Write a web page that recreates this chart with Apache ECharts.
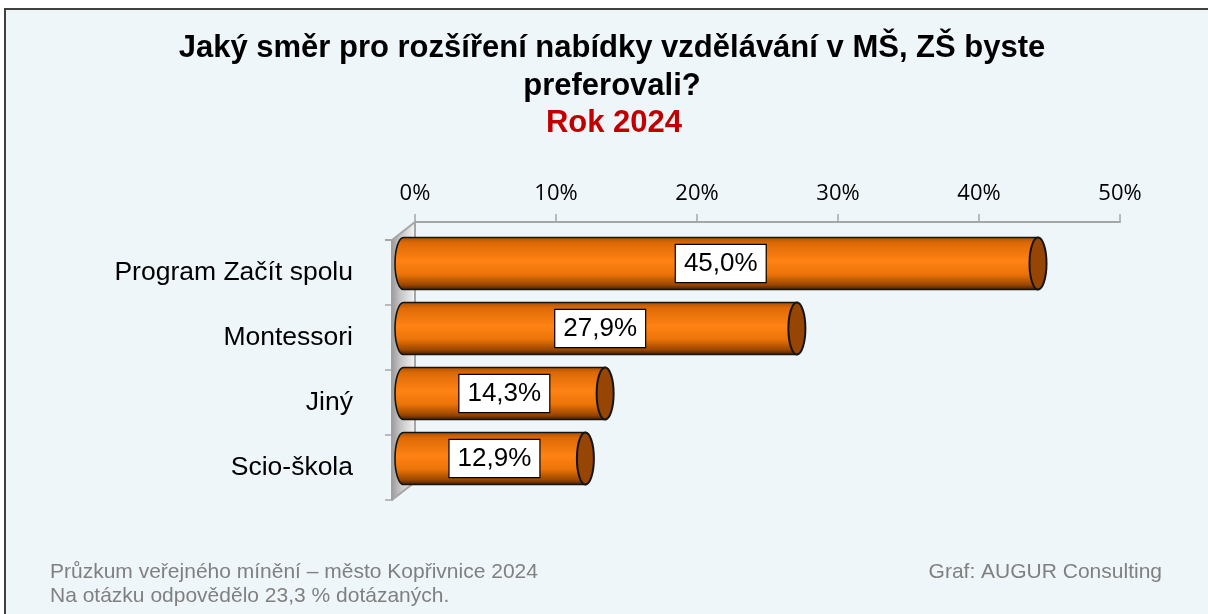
<!DOCTYPE html>
<html>
<head>
<meta charset="utf-8">
<script src="https://cdn.jsdelivr.net/npm/echarts@6/dist/echarts.min.js"></script>
<style>
html,body{margin:0;padding:0;background:#fff;}
#frame{position:absolute;left:4px;top:8px;width:1220px;height:620px;background:#EFF6FA;border-top:2px solid #404040;border-left:2px solid #404040;}
#chart{position:absolute;left:0;top:0;width:1208px;height:614px;}
</style>
</head>
<body>
<div id="frame"></div>
<div id="chart"></div>
<script>
// ---- data ----
const categories = ['Program Začít spolu', 'Montessori', 'Jiný', 'Scio-škola'];
const values = [45.0, 27.9, 14.3, 12.9];
const axisMin = 0, axisMax = 50, axisStep = 10;
const titleLines = ['Jaký směr pro rozšíření nabídky vzdělávání v MŠ, ZŠ byste', 'preferovali?'];
const yearLine = 'Rok 2024';
const footLeft = ['Průzkum veřejného mínění – město Kopřivnice 2024', 'Na otázku odpovědělo 23,3 % dotázaných.'];
const footRight = 'Graf: AUGUR Consulting';

// ---- layout (3D frame: back plane, mid plane for bars, front plane) ----
const BACK = {left: 415, top: 222}, DEPTH = {dx: -23, dy: 18};
const PLOT_W = 705, PLOT_H = 260;
const MID = {left: BACK.left + DEPTH.dx / 2, top: BACK.top + DEPTH.dy / 2};
const FRONT = {left: BACK.left + DEPTH.dx, top: BACK.top + DEPTH.dy};
const FONT = 'Liberation Sans, Arial';

const chart = echarts.init(document.getElementById('chart'), null, {renderer: 'canvas'});

const fmt = v => v.toFixed(1).replace('.', ',') + '%';

const barGradient = new echarts.graphic.LinearGradient(0, 0, 0, 1, [
  {offset: 0, color: '#A84E00'},
  {offset: 0.12, color: '#DE6A06'},
  {offset: 0.45, color: '#FF8214'},
  {offset: 0.7, color: '#EC7408'},
  {offset: 0.9, color: '#9A4600'},
  {offset: 1, color: '#3A1A00'}
]);

const hiddenX = gi => ({type: 'value', gridIndex: gi, min: axisMin, max: axisMax, interval: axisStep, show: false});
const hiddenY = gi => ({type: 'category', gridIndex: gi, data: categories, inverse: true, show: false});

const option = {
  backgroundColor: 'transparent',
  animation: false,
  grid: [
    {left: BACK.left, top: BACK.top, width: PLOT_W, height: PLOT_H},
    {left: MID.left, top: MID.top, width: PLOT_W, height: PLOT_H},
    {left: FRONT.left, top: FRONT.top, width: PLOT_W, height: PLOT_H}
  ],
  xAxis: [
    {
      type: 'value', gridIndex: 0, position: 'top', min: axisMin, max: axisMax, interval: axisStep,
      axisLine: {show: true, lineStyle: {color: '#A6A6A6', width: 2}},
      axisTick: {show: true, length: 8, lineStyle: {color: '#A6A6A6', width: 1.5}},
      splitLine: {show: false},
      axisLabel: {formatter: '{value}%', fontFamily: 'Open Sans', fontSize: 22, color: '#000', margin: 17}
    },
    hiddenX(1),
    hiddenX(2)
  ],
  yAxis: [
    hiddenY(0),
    hiddenY(1),
    {
      type: 'category', gridIndex: 2, data: categories, inverse: true,
      axisLine: {show: true, lineStyle: {color: '#A6A6A6', width: 2}},
      axisTick: {show: true, length: 7, lineStyle: {color: '#A6A6A6', width: 1.5}},
      axisLabel: {fontFamily: FONT, fontSize: 26.5, color: '#000', margin: 39}
    }
  ],
  graphic: [
    // side wall
    {type: 'polygon', z: 1, silent: true,
      shape: {points: [[FRONT.left, FRONT.top], [BACK.left, BACK.top], [BACK.left, BACK.top + PLOT_H], [FRONT.left, FRONT.top + PLOT_H]]},
      style: {fill: new echarts.graphic.LinearGradient(0, 0, 1, 0, [
        {offset: 0, color: '#9C9C9C'}, {offset: 0.35, color: '#C4C4C4'}, {offset: 1, color: '#F4F4F4'}])}},
    {type: 'polyline', z: 1, silent: true,
      shape: {points: [[FRONT.left - 7, FRONT.top], [FRONT.left, FRONT.top], [BACK.left, BACK.top], [BACK.left, BACK.top + PLOT_H], [FRONT.left, FRONT.top + PLOT_H]]},
      style: {stroke: '#A6A6A6', lineWidth: 2, fill: null}},
    {type: 'line', z: 1, silent: true,
      shape: {x1: FRONT.left, y1: FRONT.top, x2: FRONT.left, y2: FRONT.top + PLOT_H},
      style: {stroke: '#A0A0A0', lineWidth: 2}},
    // titles
    {type: 'text', x: 612, y: 48, z: 5, style: {text: titleLines[0], fontFamily: FONT, fontWeight: 'bold', fontSize: 31, fill: '#000', align: 'center', verticalAlign: 'middle'}},
    {type: 'text', x: 612, y: 86, z: 5, style: {text: titleLines[1], fontFamily: FONT, fontWeight: 'bold', fontSize: 31, fill: '#000', align: 'center', verticalAlign: 'middle'}},
    {type: 'text', x: 614, y: 123, z: 5, style: {text: yearLine, fontFamily: FONT, fontWeight: 'bold', fontSize: 31, fill: '#C00000', align: 'center', verticalAlign: 'middle'}},
    // footer
    {type: 'text', x: 50, y: 572, z: 5, style: {text: footLeft[0], fontFamily: FONT, fontSize: 21, fill: '#808080', align: 'left', verticalAlign: 'middle'}},
    {type: 'text', x: 50, y: 596, z: 5, style: {text: footLeft[1], fontFamily: FONT, fontSize: 21, fill: '#808080', align: 'left', verticalAlign: 'middle'}},
    {type: 'text', x: 1162, y: 572, z: 5, style: {text: footRight, fontFamily: FONT, fontSize: 21, fill: '#808080', align: 'right', verticalAlign: 'middle'}}
  ],
  series: [{
    type: 'custom',
    xAxisIndex: 1, yAxisIndex: 1,
    clip: false,
    z: 3,
    data: values.map((v, i) => [v, i]),
    renderItem: function (params, api) {
      const v = api.value(0), c = api.value(1);
      const p0 = api.coord([0, c]);
      const p1 = api.coord([v, c]);
      const band = api.size([0, 1])[1];
      const ry = band * 0.4, rx = 8.5;
      const x0 = p0[0], x1 = p1[0], yc = p0[1];
      const top = yc - ry, bot = yc + ry;
      const d = 'M' + x0 + ' ' + top + ' L' + x1 + ' ' + top + ' L' + x1 + ' ' + bot +
        ' L' + x0 + ' ' + bot + ' A' + rx + ' ' + ry + ' 0 0 1 ' + x0 + ' ' + top + ' Z';
      return {
        type: 'group',
        children: [
          {type: 'path', shape: {pathData: d}, style: {fill: barGradient, stroke: '#141414', lineWidth: 1.6}},
          {type: 'ellipse', shape: {cx: x1, cy: yc, rx: rx, ry: ry}, style: {fill: '#964505', stroke: '#141414', lineWidth: 2}},
          {type: 'text', x: (x0 + x1) / 2, y: yc, style: {
            text: fmt(v), fontFamily: FONT, fontSize: 26, fill: '#000',
            align: 'center', verticalAlign: 'middle',
            backgroundColor: '#fff', borderColor: '#000', borderWidth: 1.2, padding: [6, 8, 5, 8]}}
        ]
      };
    }
  }]
};
chart.setOption(option);
</script>
</body>
</html>
